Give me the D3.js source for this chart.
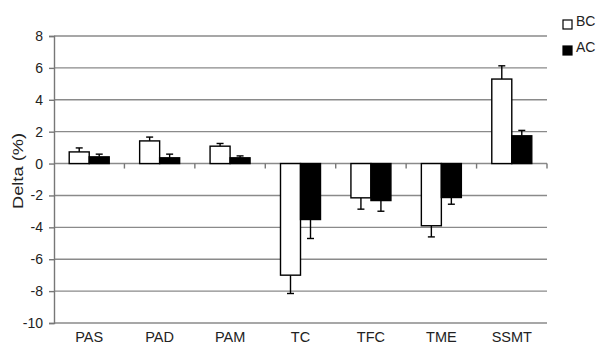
<!DOCTYPE html>
<html>
<head>
<meta charset="UTF-8">
<script src="https://d3js.org/d3.v7.min.js"></script>
<style>
    body { margin: 0; background: #fff; font-family: Arial, "Liberation Sans", sans-serif; }
    text { fill: #222; }
</style>
</head>
<body>
<svg id="main" width="602" height="344"></svg>
<script>
    // values
    var categories = ["PAS", "PAD", "PAM", "TC", "TFC", "TME", "SSMT"];
    var series = ["BC", "AC"];
    var bcValues = [0.73, 1.42, 1.09, -7.0, -2.15, -3.9, 5.3];
    var bcErrors = [0.25, 0.24, 0.17, 1.15, 0.71, 0.7, 0.83];
    var acValues = [0.42, 0.36, 0.36, -3.51, -2.32, -2.13, 1.74];
    var acErrors = [0.17, 0.23, 0.12, 1.19, 0.67, 0.42, 0.34];
    var yTicks = [8, 6, 4, 2, 0, -2, -4, -6, -8, -10];

    var fills = { BC: "#fff", AC: "#000" };

    var svg = d3.select("#main");
    var plotLeft = 54, plotRight = 547, plotTop = 36, plotBottom = 323;

    var x = d3.scaleBand().domain(categories).range([plotLeft, plotRight]);
    var sub = d3.scaleBand().domain(series).range([x.bandwidth() / 2 - 20, x.bandwidth() / 2 + 20]);
    var y = d3.scaleLinear().domain([-10, 8]).range([plotBottom, plotTop]);

    // grid lines
    svg.append("g").selectAll("line")
        .data(yTicks)
        .enter().append("line")
        .attr("x1", plotLeft).attr("x2", plotRight)
        .attr("y1", d => y(d)).attr("y2", d => y(d))
        .attr("stroke", "#8a8a8a").attr("stroke-width", 1.4);

    // y axis
    var yAxis = svg.append("g")
        .attr("transform", "translate(" + plotLeft + ",0)")
        .call(d3.axisLeft(y).tickValues(yTicks).tickSize(5).tickPadding(6).tickFormat(d => String(d)));
    yAxis.select(".domain").attr("stroke", "#777").attr("stroke-width", 1.4);
    yAxis.selectAll(".tick line").attr("stroke", "#777").attr("stroke-width", 1.4);
    yAxis.selectAll(".tick text").style("font-size", "14px").style("font-family", "Arial, 'Liberation Sans'").attr("fill", "#222");

    // category tick marks on the zero line
    var bounds = categories.slice(1).map(c => x(c)).concat([plotRight]);
    svg.append("g").selectAll("line")
        .data(bounds)
        .enter().append("line")
        .attr("x1", d => d).attr("x2", d => d)
        .attr("y1", y(0)).attr("y2", y(0) + 5)
        .attr("stroke", "#777").attr("stroke-width", 1.4);

    // category labels
    svg.append("g").selectAll("text")
        .data(categories)
        .enter().append("text")
        .attr("x", d => x(d) + x.bandwidth() / 2)
        .attr("y", 342)
        .attr("text-anchor", "middle")
        .style("font-size", "14.5px")
        .text(d => d);

    // y label
    svg.append("text")
        .attr("transform", "translate(23,171) rotate(-90)")
        .attr("text-anchor", "middle")
        .attr("textLength", 76)
        .attr("lengthAdjust", "spacingAndGlyphs")
        .style("font-size", "15.5px")
        .text("Delta (%)");

    var rows = [];
    categories.forEach(function(c, i) {
        rows.push({ cat: c, s: "BC", v: bcValues[i], e: bcErrors[i] });
        rows.push({ cat: c, s: "AC", v: acValues[i], e: acErrors[i] });
    });

    var g = svg.append("g");
    var capW = 7;

    // error bars (one sided, outward)
    rows.forEach(function(d) {
        var cx = x(d.cat) + sub(d.s) + sub.bandwidth() / 2;
        var tip = d.v >= 0 ? d.v + d.e : d.v - d.e;
        g.append("line")
            .attr("x1", cx).attr("x2", cx)
            .attr("y1", y(d.v)).attr("y2", y(tip))
            .attr("stroke", "#000").attr("stroke-width", 1.4);
        g.append("line")
            .attr("x1", cx - capW / 2).attr("x2", cx + capW / 2)
            .attr("y1", y(tip)).attr("y2", y(tip))
            .attr("stroke", "#000").attr("stroke-width", 1.4);
    });

    // bars
    g.selectAll("rect")
        .data(rows)
        .enter().append("rect")
        .attr("x", d => x(d.cat) + sub(d.s))
        .attr("width", sub.bandwidth())
        .attr("y", d => y(Math.max(0, d.v)))
        .attr("height", d => Math.abs(y(d.v) - y(0)))
        .attr("fill", d => fills[d.s])
        .attr("stroke", "#000")
        .attr("stroke-width", 1.4);

    // legend
    var legend = svg.append("g").selectAll("g")
        .data(series)
        .enter().append("g")
        .attr("transform", (d, i) => "translate(563," + (20 + i * 26) + ")");
    legend.append("rect")
        .attr("width", 9).attr("height", 9)
        .attr("fill", d => fills[d])
        .attr("stroke", "#000").attr("stroke-width", 1.2);
    legend.append("text")
        .attr("x", 13).attr("y", 5.5)
        .style("font-size", "14px")
        .text(d => d);
</script>
</body>
</html>
